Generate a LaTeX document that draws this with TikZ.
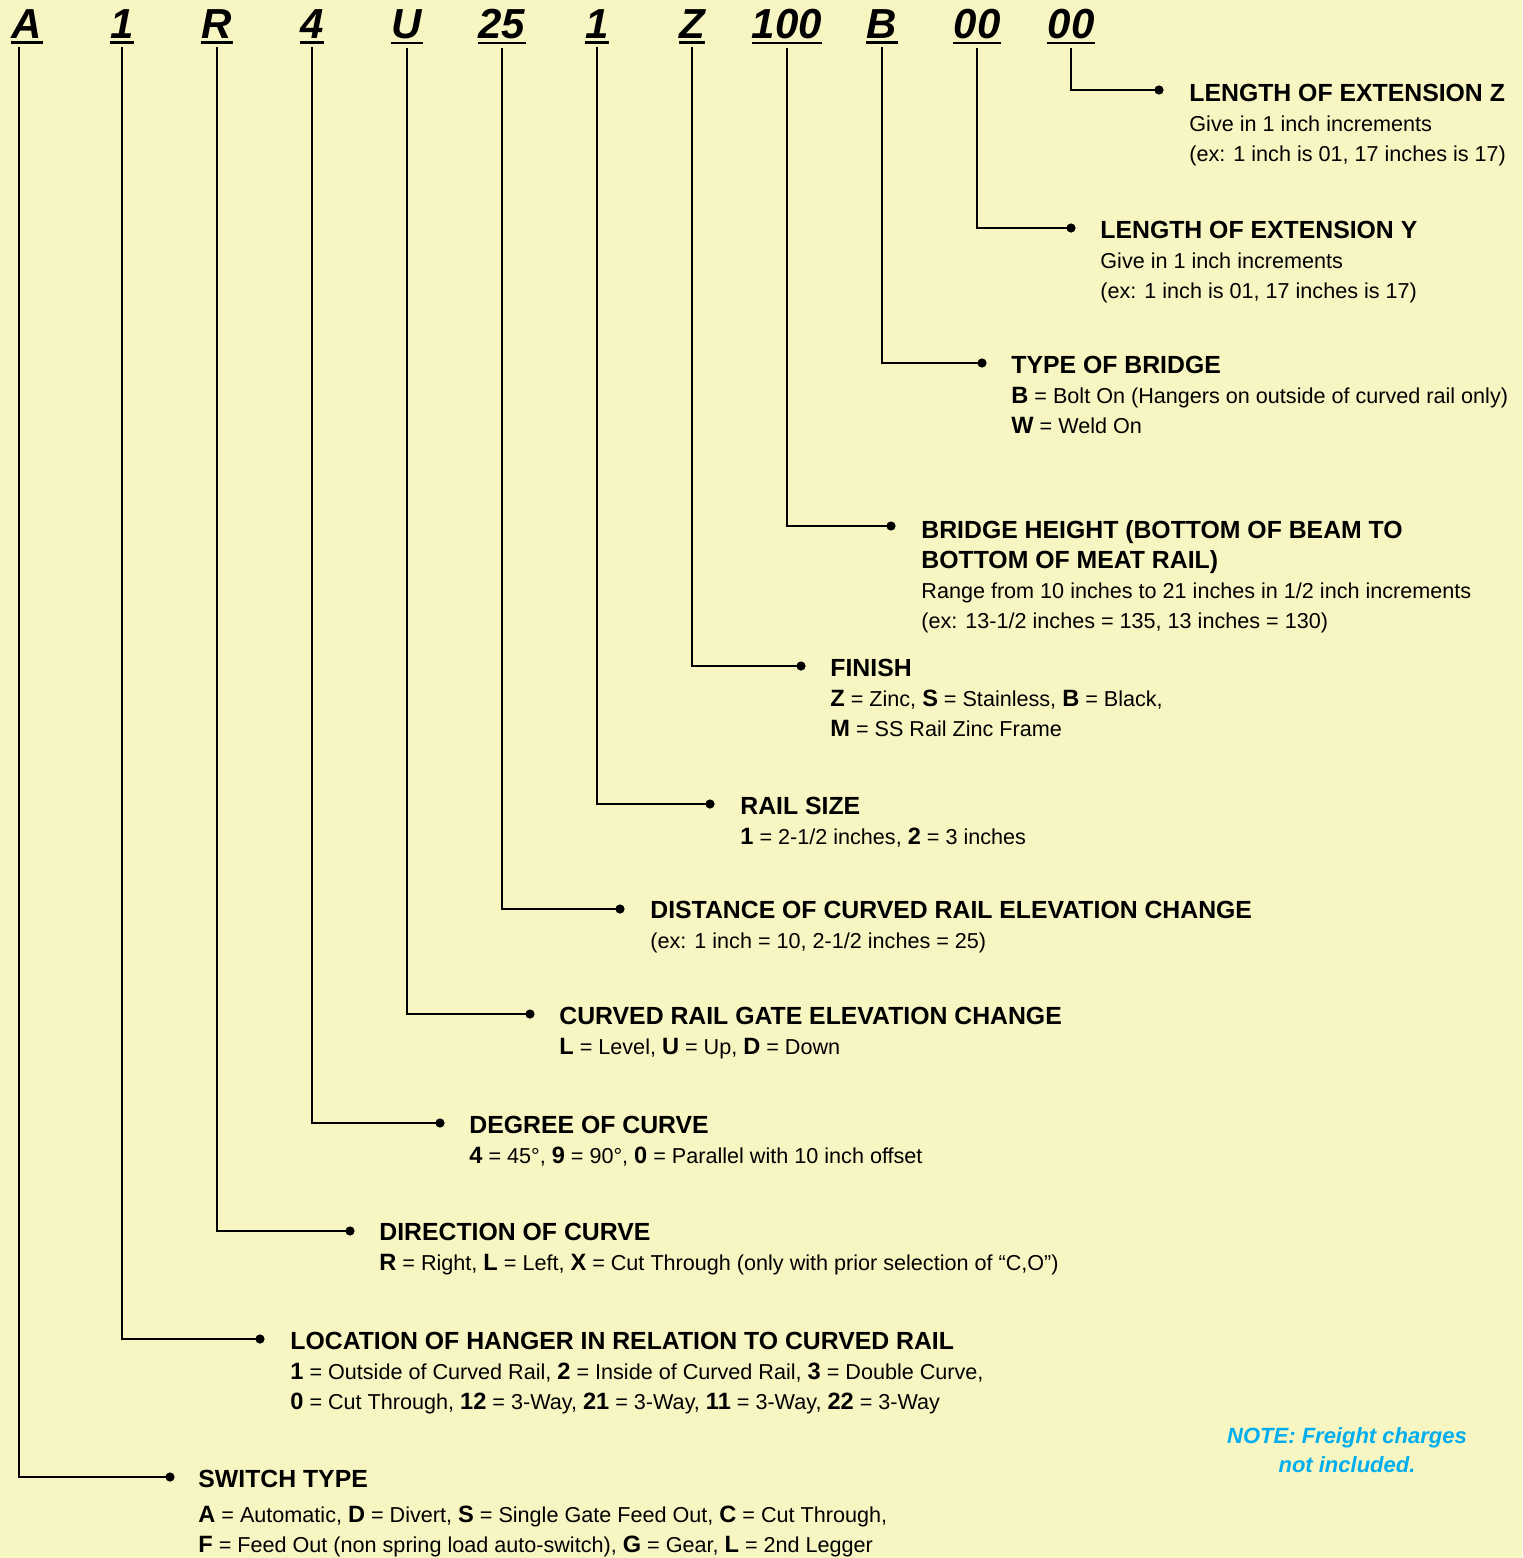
\documentclass[tikz,border=0pt]{standalone}
\usepackage{fontspec}
\setmainfont{Liberation Sans}
\definecolor{paper}{RGB}{247,245,193}
\definecolor{notecyan}{RGB}{0,174,239}
\newcommand\hdtxt[1]{{\bfseries\fontsize{12.4}{15}\selectfont #1}}
\newcommand\kc[1]{{\bfseries\fontsize{11.8}{15}\selectfont #1}}
\tikzset{
  code/.style={anchor=base, inner sep=0pt, font=\fontsize{21}{21}\selectfont\bfseries\itshape},
  uline/.style={line width=1.4pt},
  wire/.style={line width=1.25pt},
  dotnode/.style={circle, fill=black, inner sep=0pt, minimum size=4.6pt},
  info/.style={anchor=north west, inner sep=0pt, align=left, font=\fontsize{10.8}{15}\selectfont},
  note/.style={anchor=north, inner sep=0pt, align=center, text=notecyan, font=\fontsize{11}{14.5}\selectfont\bfseries\itshape}
}
\begin{document}
\begin{tikzpicture}[x=0.5pt, y=-0.5pt]
  \fill [paper] (0,0) rectangle (1522,1558);
  \useasboundingbox (0,0) rectangle (1522,1558);

  % part number
  \node [code] (cA) at (27,39){A};
  \node [code] (cHanger) at (122,39){1};
  \node [code] (cDir) at (217,39){R};
  \node [code] (cDeg) at (312,39){4};
  \node [code] (cGate) at (407,39){U};
  \node [code] (cDist) at (502,39){25};
  \node [code] (cRail) at (597,39){1};
  \node [code] (cFinish) at (692,39){Z};
  \node [code] (cHeight) at (787,39){100};
  \node [code] (cBridge) at (882,39){B};
  \node [code] (cExtY) at (977,39){00};
  \node [code] (cExtZ) at (1071,39){00};
  \foreach \n in {cA,cHanger,cDir,cDeg,cGate,cDist,cRail,cFinish,cHeight,cBridge,cExtY,cExtZ}
    \draw [uline] ([yshift=-1.6pt]\n.south west) -- ([yshift=-1.6pt]\n.south east);

  % dots
  \node [dotnode] (dExtZ) at (1159,90){};
  \node [dotnode] (dExtY) at (1071,228){};
  \node [dotnode] (dBridge) at (982,363){};
  \node [dotnode] (dHeight) at (891,526){};
  \node [dotnode] (dFinish) at (801,666){};
  \node [dotnode] (dRail) at (710,804){};
  \node [dotnode] (dDist) at (620,909){};
  \node [dotnode] (dGate) at (530,1014){};
  \node [dotnode] (dDeg) at (440,1123){};
  \node [dotnode] (dDir) at (350,1231){};
  \node [dotnode] (dHanger) at (260,1339){};
  \node [dotnode] (dA) at (170,1477){};

  % leaders
  \draw [wire] ([yshift=-4pt]cExtZ.south) |- (dExtZ.center);
  \draw [wire] ([yshift=-4pt]cExtY.south) |- (dExtY.center);
  \draw [wire] ([yshift=-4pt]cBridge.south) |- (dBridge.center);
  \draw [wire] ([yshift=-4pt]cHeight.south) |- (dHeight.center);
  \draw [wire] ([yshift=-4pt]cFinish.south) |- (dFinish.center);
  \draw [wire] ([yshift=-4pt]cRail.south) |- (dRail.center);
  \draw [wire] ([yshift=-4pt]cDist.south) |- (dDist.center);
  \draw [wire] ([yshift=-4pt]cGate.south) |- (dGate.center);
  \draw [wire] ([yshift=-4pt]cDeg.south) |- (dDeg.center);
  \draw [wire] ([yshift=-4pt]cDir.south) |- (dDir.center);
  \draw [wire] ([yshift=-4pt]cHanger.south) |- (dHanger.center);
  \draw [wire] ([xshift=-4pt,yshift=-4pt]cA.south) |- (dA.center);

  % descriptions
  \node [info] (tExtZ) at (1189,84){\hdtxt{LENGTH OF EXTENSION Z}\\Give in 1 inch increments\\(ex: 1 inch is 01, 17 inches is 17)};
  \node [info] (tExtY) at (1100,221){\hdtxt{LENGTH OF EXTENSION Y}\\Give in 1 inch increments\\(ex: 1 inch is 01, 17 inches is 17)};
  \node [info] (tBridge) at (1011,356){\hdtxt{TYPE OF BRIDGE}\\\kc{B} = Bolt On (Hangers on outside of curved rail only)\\\kc{W} = Weld On};
  \node [info] (tHeight) at (921,520){\hdtxt{BRIDGE HEIGHT (BOTTOM OF BEAM TO}\\\hdtxt{BOTTOM OF MEAT RAIL)}\\Range from 10 inches to 21 inches in 1/2 inch increments\\(ex: 13-1/2 inches = 135, 13 inches = 130)};
  \node [info] (tFinish) at (830,659){\hdtxt{FINISH}\\\kc{Z} = Zinc, \kc{S} = Stainless, \kc{B} = Black,\\\kc{M} = SS Rail Zinc Frame};
  \node [info] (tRail) at (740,797){\hdtxt{RAIL SIZE}\\\kc{1} = 2-1/2 inches, \kc{2} = 3 inches};
  \node [info] (tDist) at (650,901){\hdtxt{DISTANCE OF CURVED RAIL ELEVATION CHANGE}\\(ex: 1 inch = 10, 2-1/2 inches = 25)};
  \node [info] (tGate) at (559,1007){\hdtxt{CURVED RAIL GATE ELEVATION CHANGE}\\\kc{L} = Level, \kc{U} = Up, \kc{D} = Down};
  \node [info] (tDeg) at (469,1116){\hdtxt{DEGREE OF CURVE}\\\kc{4} = 45°, \kc{9} = 90°, \kc{0} = Parallel with 10 inch offset};
  \node [info] (tDir) at (379,1223){\hdtxt{DIRECTION OF CURVE}\\\kc{R} = Right, \kc{L} = Left, \kc{X} = Cut Through (only with prior selection of “C,O”)};
  \node [info] (tHanger) at (290,1332){\hdtxt{LOCATION OF HANGER IN RELATION TO CURVED RAIL}\\\kc{1} = Outside of Curved Rail, \kc{2} = Inside of Curved Rail, \kc{3} = Double Curve,\\\kc{0} = Cut Through, \kc{12} = 3-Way, \kc{21} = 3-Way, \kc{11} = 3-Way, \kc{22} = 3-Way};
  \node [info] (tA) at (198,1470){\hdtxt{SWITCH TYPE}\\[2.5pt]\kc{A} = Automatic, \kc{D} = Divert, \kc{S} = Single Gate Feed Out, \kc{C} = Cut Through,\\\kc{F} = Feed Out (non spring load auto-switch), \kc{G} = Gear, \kc{L} = 2nd Legger};

  \node [note] (nFreight) at (1347,1427){NOTE: Freight charges\\not included.};
\end{tikzpicture}
\end{document}
